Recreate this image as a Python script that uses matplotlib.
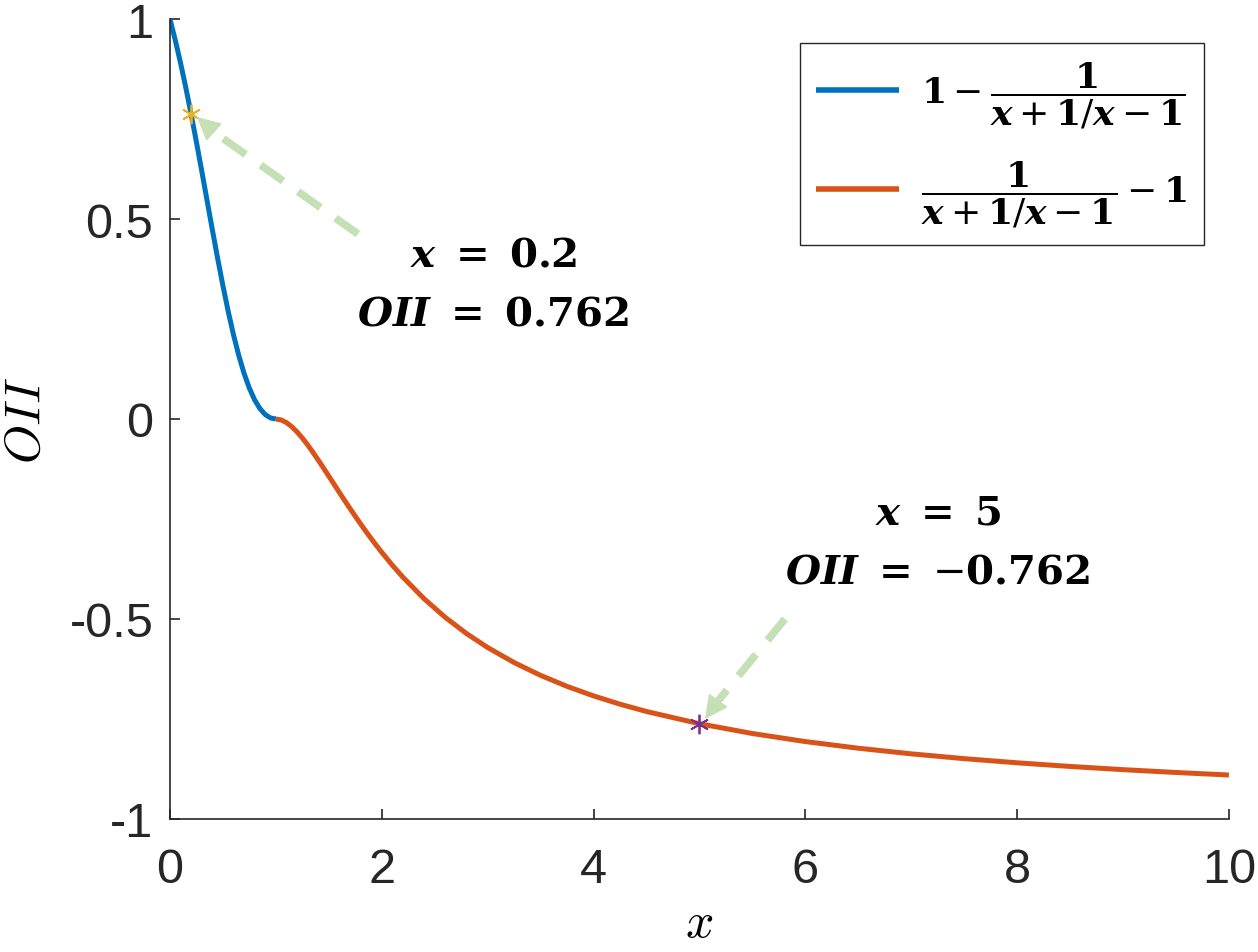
import matplotlib
matplotlib.use("Agg")
import matplotlib.pyplot as plt
from matplotlib.ticker import FixedLocator, FixedFormatter

# blue branch, x in [0, 1]
x_left = [0.0, 0.05, 0.1, 0.15, 0.2, 0.25, 0.3, 0.35, 0.4, 0.45, 0.5,
          0.55, 0.6, 0.65, 0.7, 0.75, 0.8, 0.85, 0.9, 0.95, 1.0]
y_left = [1.0, 0.9475, 0.8901, 0.8281, 0.7619, 0.6923, 0.6203, 0.5469, 0.4737, 0.4020, 0.3333,
          0.2691, 0.2105, 0.1586, 0.1139, 0.0769, 0.0476, 0.0258, 0.0110, 0.0026, 0.0]
# orange branch, x in [1, 10]
x_right = [1.0, 1.05, 1.1, 1.15, 1.2, 1.25, 1.3, 1.35, 1.4, 1.45, 1.5, 1.55, 1.6, 1.65, 1.7,
           1.75, 1.8, 1.85, 1.9, 1.95, 2.0, 2.1, 2.2, 2.4, 2.6, 2.8, 3.0, 3.25, 3.5, 3.75,
           4.0, 4.25, 4.5, 5.0, 5.5, 6.0, 6.5, 7.0, 7.5, 8.0, 8.5, 9.0, 9.5, 10.0]
y_right = [0.0, -0.0024, -0.0090, -0.0192, -0.0323, -0.0476, -0.0647, -0.0832, -0.1026, -0.1225,
           -0.1429, -0.1633, -0.1837, -0.2039, -0.2237, -0.2432, -0.2623, -0.2809, -0.2989,
           -0.3164, -0.3333, -0.3656, -0.3956, -0.4495, -0.4961, -0.5364, -0.5714, -0.6090,
           -0.6410, -0.6685, -0.6923, -0.7131, -0.7313, -0.7619, -0.7864, -0.8065, -0.8231,
           -0.8372, -0.8492, -0.8596, -0.8687, -0.8767, -0.8838, -0.8901]

# highlighted points
pt1 = (0.2, 0.762)
pt2 = (5.0, -0.762)

xticks = [0, 2, 4, 6, 8, 10]
yticks = [-1, -0.5, 0, 0.5, 1]
ytick_labels = ["-1", "-0.5", "0", "0.5", "1"]

blue = "#0072BD"
orange = "#D95319"
arrow_green = "#C5E0B4"

plt.rcParams["font.family"] = ["Liberation Sans", "DejaVu Sans"]

fig = plt.figure(figsize=(12.58, 9.53), dpi=100)
ax = fig.add_axes([0.1351, 0.1396, 0.8418, 0.8394])

ax.plot(x_left, y_left, color=blue, lw=3.6, solid_capstyle="butt", solid_joinstyle="round",
        label=r"$\mathbf{1}-\dfrac{\mathbf{1}}{\mathbfit{x}+\mathbf{1}/\mathbfit{x}-\mathbf{1}}$")
ax.plot(x_right, y_right, color=orange, lw=3.6, solid_capstyle="butt", solid_joinstyle="round",
        label=r"$\dfrac{\mathbf{1}}{\mathbfit{x}+\mathbf{1}/\mathbfit{x}-\mathbf{1}}-\mathbf{1}$")

# dashed arrows: shaft + solid head
def dashed_arrow(tail, base, tip):
    ax.plot([tail[0], base[0]], [tail[1], base[1]], color=arrow_green, lw=5.5,
            dashes=(3.6, 2.4), solid_capstyle="butt", dash_capstyle="butt")
    ax.annotate("", xy=tip, xytext=base,
                arrowprops=dict(arrowstyle="-|>,head_length=0.75,head_width=0.38",
                                color=arrow_green, lw=1, mutation_scale=20,
                                shrinkA=0, shrinkB=0))

dashed_arrow((1.775, 0.4625), (0.415, 0.7175), (0.255, 0.755))
dashed_arrow((5.807, -0.5), (5.175, -0.705), (5.052, -0.75))

ax.plot(*pt1, marker=(6, 2, 0), color="#EDB120", ms=14, mew=1.3)
ax.plot(*pt2, marker=(6, 2, 0), color="#7E2F8E", ms=14, mew=1.3)

tkw = dict(ha="center", va="center", fontsize=29, math_fontfamily="dejavuserif")
ax.text(3.05, 0.41, r"$\mathbfit{x}\ \mathbf{=}\ \mathbf{0.2}$", **tkw)
ax.text(3.05, 0.2625, r"$\mathbfit{OII}\ \mathbf{=}\ \mathbf{0.762}$", **tkw)
ax.text(7.25, -0.235, r"$\mathbfit{x}\ \mathbf{=}\ \mathbf{5}$", **tkw)
ax.text(7.25, -0.3825, r"$\mathbfit{OII}\ \mathbf{=}\ {-}\mathbf{0.762}$", **tkw)

ax.set_xlim(0, 10)
ax.set_ylim(-1, 1)
ax.xaxis.set_major_locator(FixedLocator(xticks))
ax.yaxis.set_major_locator(FixedLocator(yticks))
ax.yaxis.set_major_formatter(FixedFormatter(ytick_labels))

for s in ["top", "right"]:
    ax.spines[s].set_visible(False)
for s in ["left", "bottom"]:
    ax.spines[s].set_color("#262626")
    ax.spines[s].set_linewidth(1.2)
ax.tick_params(direction="in", length=7, width=1.2, color="#262626",
               labelsize=35, labelcolor="#262626")
ax.tick_params(axis="x", pad=20)
ax.tick_params(axis="y", pad=12)

ax.set_xlabel(r"$x$", fontsize=36, math_fontfamily="cm", labelpad=6)
ax.set_ylabel(r"$OII$", fontsize=36, math_fontfamily="cm", labelpad=14)

leg = ax.legend(loc="upper right", bbox_to_anchor=(0.976, 0.97), borderaxespad=0,
                fancybox=False, edgecolor="#262626", framealpha=1, handlelength=2.3,
                prop=dict(size=26, math_fontfamily="dejavuserif"), labelspacing=0.8,
                borderpad=0.45, handletextpad=0.6)
leg.get_frame().set_linewidth(1.0)
for line in leg.get_lines():
    line.set_linewidth(4)

fig.savefig("out.png", dpi=100)
